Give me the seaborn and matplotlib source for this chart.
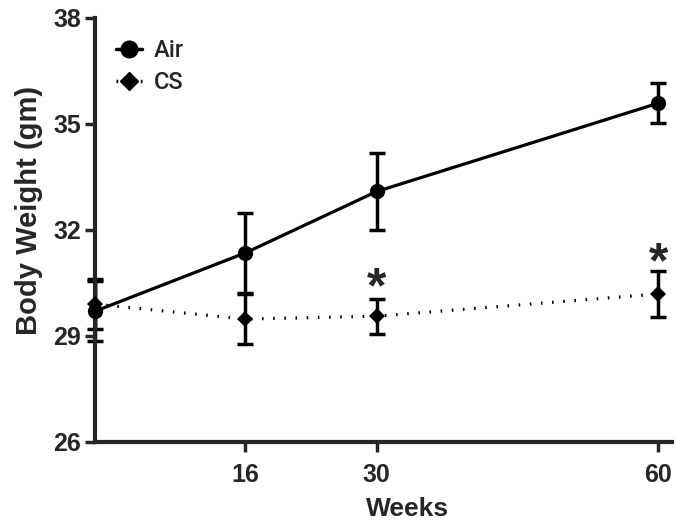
import numpy as np
import pandas as pd
import matplotlib
matplotlib.use("Agg")
import matplotlib.pyplot as plt
import seaborn as sns
from matplotlib.lines import Line2D

weeks = [0, 16, 30, 60]
air_mean = [29.7, 31.35, 33.09, 35.59]
air_sem = [0.85, 1.12, 1.08, 0.57]
cs_mean = [29.9, 29.48, 29.56, 30.19]
cs_sem = [0.7, 0.7, 0.5, 0.65]
star_weeks = [30, 60]
star_y = [29.68, 30.39]

sns.set_style("ticks")
plt.rcParams['font.family'] = ['Liberation Sans Narrow', 'Liberation Sans', 'DejaVu Sans']

df = pd.DataFrame({
    'Weeks': weeks * 2,
    'Weight': air_mean + cs_mean,
    'Group': ['Air'] * 4 + ['CS'] * 4,
})

fig = plt.figure(figsize=(6.76, 5.29), dpi=100)
ax = fig.add_axes([0.1405, 0.1645, 0.853, 0.8015])

sns.lineplot(data=df, x='Weeks', y='Weight', hue='Group', style='Group',
             palette={'Air': 'black', 'CS': 'black'},
             markers={'Air': 'o', 'CS': 'D'},
             dashes={'Air': '', 'CS': (0.5, 3.0)},
             linewidth=2.3, ax=ax, legend=False, zorder=3)
for ln, ms in zip(ax.lines, [11, 8.5]):
    ln.set_markersize(ms)
    ln.set_markeredgewidth(0)
    ln.set_clip_on(False)

ax.errorbar(weeks, air_mean, yerr=air_sem, fmt='none', ecolor='black',
            elinewidth=2.5, capsize=5.5, capthick=2.5, clip_on=False, zorder=2)
ax.errorbar(weeks, cs_mean, yerr=cs_sem, fmt='none', ecolor='black',
            elinewidth=2.5, capsize=5.5, capthick=2.5, clip_on=False, zorder=2)

for xw, yv in zip(star_weeks, star_y):
    ax.text(xw, yv, '*', ha='center', va='bottom', fontsize=36,
            fontweight='bold', family=['Liberation Sans', 'DejaVu Sans'])

ax.set_xlim(0, 61.4)
ax.set_ylim(26, 38)
ax.set_xticks([16, 30, 60])
ax.set_yticks([26, 29, 32, 35, 38])
ax.tick_params(axis='both', width=2.5, length=7, labelsize=18, direction='out')
ax.tick_params(axis='x', pad=8)
ax.tick_params(axis='y', pad=3)
for lab in ax.get_xticklabels() + ax.get_yticklabels():
    lab.set_fontweight('bold')
for s in ['left', 'bottom']:
    ax.spines[s].set_linewidth(3)
sns.despine(ax=ax)

ax.set_xlabel('Weeks', fontsize=19, fontweight='bold',
              family=['Liberation Sans', 'DejaVu Sans'])
ax.xaxis.set_label_coords(0.542, -0.13)
ax.set_ylabel('Body Weight (gm)', fontsize=21, fontweight='bold',
              family=['Liberation Sans', 'DejaVu Sans'])
ax.yaxis.set_label_coords(-0.09, 0.545)

handles = [Line2D([], [], color='black', marker='o', markersize=12, lw=2.5),
           Line2D([], [], color='black', marker='D', markersize=9, lw=2.5,
                  linestyle=(0, (0.5, 3.0)))]
leg = ax.legend(handles, ['Air', 'CS'], loc='upper left', frameon=False,
                bbox_to_anchor=(0.0, 1.0), handlelength=1.1, handletextpad=0.5,
                labelspacing=0.38, prop={'family': ['Roboto', 'DejaVu Sans'],
                                         'size': 17, 'weight': 'medium'})

fig.savefig('out.png', dpi=100)
